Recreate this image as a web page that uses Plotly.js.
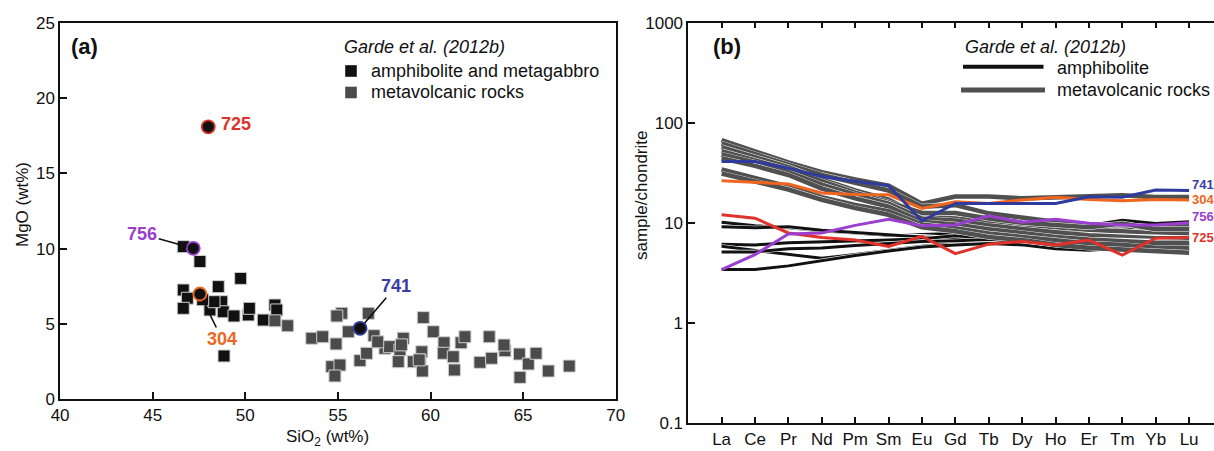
<!DOCTYPE html>
<html><head><meta charset="utf-8">
<script src="https://cdn.plot.ly/plotly-3.0.1.min.js"></script>
<style>
html,body{margin:0;padding:0;overflow:hidden;background:#fff;width:1214px;height:451px}
#chart{width:1230px;height:451px}
</style>
</head><body><div id="chart"></div>
<script>
// ---------- Panel (a): MgO vs SiO2 ----------
const amphX = [46.65, 47.55, 49.75, 46.65, 46.87, 48.54, 48.73, 46.65, 48.09, 48.81, 49.39, 50.16, 50.22, 50.97, 51.60, 51.70, 48.85, 48.31, 47.70];
const amphY = [10.13, 9.14, 8.02, 7.25, 6.70, 7.47, 6.47, 6.03, 5.92, 5.80, 5.52, 5.59, 6.03, 5.25, 6.25, 5.92, 2.86, 6.47, 6.60];
const volcX = [53.59, 54.18, 54.90, 55.21, 54.94, 55.56, 56.64, 56.95, 54.67, 55.11, 54.84, 56.19, 56.55, 57.54, 57.78, 58.53, 58.35, 58.26, 59.07, 59.53, 59.43, 59.56, 59.61, 60.15, 60.73, 60.69, 61.23, 61.65, 61.86, 61.29, 62.67, 63.17, 63.30, 64.02, 63.97, 64.80, 65.28, 65.70, 64.83, 66.36, 67.49, 51.60, 52.29, 57.15, 58.43, 59.39];
const volcY = [4.04, 4.14, 3.66, 5.70, 5.52, 4.47, 5.70, 4.21, 2.15, 2.26, 1.53, 2.55, 3.04, 3.37, 3.48, 4.04, 3.26, 2.48, 2.48, 3.14, 2.59, 1.86, 5.41, 4.47, 3.74, 3.04, 2.81, 3.74, 4.14, 1.93, 2.44, 4.14, 2.71, 3.21, 3.59, 2.99, 2.33, 3.04, 1.44, 1.86, 2.19, 5.20, 4.87, 3.80, 3.60, 2.60];
const sampleIds = ['725', '756', '304', '741'];
const sampleSiO2 = [48.0, 47.19, 47.55, 56.2];
const sampleMgO = [18.1, 10.02, 6.98, 4.7];

// ---------- Panel (b): REE / chondrite ----------
const ree = ['La','Ce','Pr','Nd','Pm','Sm','Eu','Gd','Tb','Dy','Ho','Er','Tm','Yb','Lu'];
const amphLines = [
  [10.1, 9.3, 8.9, 8.3, 7.9, 7.5, 7.6, 7.8, 8.2, 8.6, 9.0, 9.4, 10.6, 9.8, 10.2],
  [9.1, 8.9, 9.1, 8.4, 8.0, 7.6, 7.2, 7.0, 7.3, 7.8, 8.2, 8.5, 9.1, 8.6, 9.1],
  [6.1, 6.0, 6.3, 6.4, 6.5, 6.7, 6.9, 7.4, 7.0, 6.8, 7.0, 7.3, 7.6, 7.4, 8.4],
  [5.8, 5.3, 4.8, 4.4, 4.8, 5.3, 5.8, 6.2, 6.5, 6.3, 5.8, 5.9, 6.2, 6.0, 6.1],
  [5.1, 5.1, 5.5, 5.6, 5.9, 6.2, 6.5, 6.6, 6.8, 6.4, 6.2, 6.0, 6.3, 6.1, 6.2],
  [3.4, 3.4, 3.7, 4.2, 4.7, 5.2, 5.7, 6.0, 6.2, 6.0, 5.5, 5.3, 5.6, 5.5, 5.4]
];
const volcLines = [
  [67, 52, 40, 32, 27, 23.5, 15.5, 18.3, 18.3, 17.5, 17.8, 18.0, 18.8, 18.0, 18.0],
  [62, 48, 38, 30, 25, 21, 14.5, 15.0, 12.4, 11.1, 10.2, 9.6, 9.5, 9.0, 9.2],
  [57, 45, 36, 27, 21, 17, 11.5, 11.0, 10.5, 9.6, 9.0, 8.5, 8.2, 7.8, 7.8],
  [52, 42, 34, 26, 20, 16, 12.5, 12.5, 11.0, 10.0, 9.5, 9.0, 9.8, 8.6, 8.6],
  [48, 40, 32, 24, 19, 15.5, 11.0, 10.5, 9.4, 8.6, 8.0, 7.5, 7.3, 7.0, 7.0],
  [44, 37, 30, 22, 17.5, 14.5, 10.2, 9.6, 8.6, 7.8, 7.2, 6.8, 6.6, 6.3, 6.3],
  [34, 28, 23, 18, 15, 13, 9.6, 8.8, 7.8, 7.2, 6.6, 6.2, 6.0, 5.6, 5.6],
  [31, 26, 21.5, 17, 14, 12, 9.0, 8.2, 7.2, 6.7, 6.0, 5.6, 5.4, 5.1, 5.0]
];
const ree725 = [12.0, 11.1, 7.9, 7.1, 6.7, 5.8, 7.3, 4.9, 6.1, 6.5, 6.0, 6.7, 4.75, 7.0, 7.1];
const ree756 = [3.4, 4.8, 7.7, 7.9, 9.4, 10.8, 9.3, 9.5, 11.7, 10.1, 10.8, 9.9, 9.5, 9.5, 10.0];
const ree304 = [26.3, 25.5, 24.4, 19.8, 19.1, 19.0, 13.9, 16.2, 15.6, 16.9, 18.0, 17.1, 16.6, 17.1, 16.9];
const ree741 = [41, 41, 35, 29, 26, 23.5, 10.4, 15.6, 15.6, 15.6, 15.6, 18.2, 18.0, 21.2, 21.0];
const reeSamples = [ree725, ree756, ree304, ree741];

// ---------- styles ----------
const W = 1230, H = 451;
const FONT = 'Liberation Sans, Arial, Helvetica, sans-serif';
const sampleColors = ['#e0322a', '#9a3fd0', '#f0651f', '#2f3a9e'];
const labelColors = ['#e0322a', '#9b3ecf', '#ef6522', '#3a3da6'];
const BLACK = '#111111', GREY = '#505050';
const px = p => p / W, py = p => 1 - p / H;

const traces = [];
// panel a
traces.push({type:'scatter', mode:'markers', x: amphX, y: amphY, xaxis:'x', yaxis:'y', name:'amphibolite and metagabbro',
  marker:{symbol:'square', size:12, color:BLACK, line:{color:'#cfcfcf', width:1}}, hoverinfo:'x+y'});
traces.push({type:'scatter', mode:'markers', x: volcX, y: volcY, xaxis:'x', yaxis:'y', name:'metavolcanic rocks',
  marker:{symbol:'square', size:12, color:'#4b4b4b', line:{color:'#cfcfcf', width:1}}, hoverinfo:'x+y'});
traces.push({type:'scatter', mode:'markers', x: sampleSiO2, y: sampleMgO, xaxis:'x', yaxis:'y', text: sampleIds, name:'samples',
  marker:{symbol:'circle', size:13, color:BLACK, line:{color:sampleColors, width:1.8}}});

// panel b
amphLines.forEach(v => {
  traces.push({type:'scatter', mode:'lines', x: ree, y: v, xaxis:'x2', yaxis:'y2', line:{color:'#ffffff', width:4.2}, hoverinfo:'skip'});
  traces.push({type:'scatter', mode:'lines', x: ree, y: v, xaxis:'x2', yaxis:'y2', line:{color:BLACK, width:3}, name:'amphibolite'});
});
volcLines.forEach(v => {
  traces.push({type:'scatter', mode:'lines', x: ree, y: v, xaxis:'x2', yaxis:'y2', line:{color:'#ffffff', width:5.4}, hoverinfo:'skip'});
  traces.push({type:'scatter', mode:'lines', x: ree, y: v, xaxis:'x2', yaxis:'y2', line:{color:GREY, width:4.6}, name:'metavolcanic rocks'});
});
reeSamples.forEach((v, i) => {
  traces.push({type:'scatter', mode:'lines', x: ree, y: v, xaxis:'x2', yaxis:'y2', line:{color:sampleColors[i], width:3}, name: sampleIds[i]});
});

const tickFont = {family: FONT, size: 17, color: '#111'};
const ann = [];
const txt = (text, x, y, opts) => Object.assign({text, x, y, xref:'paper', yref:'paper', showarrow:false,
  font:{family:FONT, size:18, color:'#111'}, xanchor:'left', yanchor:'middle'}, opts || {});

// panel labels & titles
ann.push(txt('<b>(a)</b>', px(84), py(46), {xanchor:'center', font:{family:FONT, size:22, color:'#111'}}));
ann.push(txt('<b>(b)</b>', px(726.5), py(46), {xanchor:'center', font:{family:FONT, size:22, color:'#111'}}));
ann.push(txt('MgO (wt%)', px(22), py(205), {xanchor:'center', textangle:-90, font:{family:FONT, size:17, color:'#111'}}));
ann.push(txt('SiO<sub>2</sub> (wt%)', px(327), py(438), {xanchor:'center', font:{family:FONT, size:17, color:'#111'}}));
ann.push(txt('sample/chondrite', px(641), py(196), {xanchor:'center', textangle:-90, font:{family:FONT, size:17, color:'#111'}}));

// legends
ann.push(txt('<i>Garde et al. (2012b)</i>', px(342), py(47)));
ann.push(txt('amphibolite and metagabbro', px(369), py(71)));
ann.push(txt('metavolcanic rocks', px(369), py(92)));
ann.push(txt('<i>Garde et al. (2012b)</i>', px(963), py(46.5)));
ann.push(txt('amphibolite', px(1055), py(67.5)));
ann.push(txt('metavolcanic rocks', px(1055), py(90)));

// sample labels in panel a
const aOffsets = [[null, null], [-51, -14], [22, 45], [36, -42]];
sampleIds.forEach((id, i) => {
  const base = {text:'<b>' + id + '</b>', x: sampleSiO2[i], y: sampleMgO[i], xref:'x', yref:'y',
    font:{family:FONT, size:18, color:labelColors[i]}};
  if (i === 0) {
    ann.push(Object.assign(base, {showarrow:false, xanchor:'left', yanchor:'middle', xshift:11, yshift:3}));
  } else {
    ann.push(Object.assign(base, {showarrow:true, arrowhead:0, arrowwidth:1.6, arrowcolor:'#111',
      ax: aOffsets[i][0], ay: aOffsets[i][1], standoff:7}));
  }
});
// sample labels at right of panel b
const bShift = [0, 6, 0, 6];
reeSamples.forEach((v, i) => {
  ann.push({text:'<b>' + sampleIds[i] + '</b>', x: ree.length - 1, y: Math.log10(v[v.length - 1]), xref:'x2', yref:'y2',
    showarrow:false, xanchor:'left', yanchor:'middle', xshift:1, yshift:bShift[i],
    font:{family:FONT, size:13, color:labelColors[i]}});
});

const shapes = [
  {type:'rect', xref:'paper', yref:'paper', x0:px(345.2), x1:px(356.8), y0:py(65.2), y1:py(76.8), fillcolor:BLACK, line:{width:0}},
  {type:'rect', xref:'paper', yref:'paper', x0:px(345.2), x1:px(356.8), y0:py(86.7), y1:py(98.3), fillcolor:'#4b4b4b', line:{width:0}},
  {type:'line', xref:'paper', yref:'paper', x0:px(963), x1:px(1043.5), y0:py(66.7), y1:py(66.7), line:{color:BLACK, width:4}},
  {type:'line', xref:'paper', yref:'paper', x0:px(961), x1:px(1045), y0:py(90), y1:py(90), line:{color:GREY, width:5}}
];

const axBase = {showline:true, linecolor:'#111', linewidth:1.5, ticks:'inside', ticklen:7, tickwidth:1.5, tickcolor:'#111',
  showgrid:false, zeroline:false, tickfont:tickFont, fixedrange:true};

const layout = {
  width: W, height: H, margin:{l:0, r:0, t:0, b:0}, showlegend:false,
  paper_bgcolor:'#fff', plot_bgcolor:'#fff',
  xaxis: Object.assign({}, axBase, {domain:[px(60.1), px(615.7)], range:[40, 70], dtick:5, tick0:40, mirror:true, anchor:'y'}),
  yaxis: Object.assign({}, axBase, {domain:[py(399), py(23)], range:[0, 25], dtick:5, tick0:0, mirror:true, anchor:'x'}),
  xaxis2: Object.assign({}, axBase, {domain:[px(688.2), px(1222.5)], type:'category', categoryorder:'array', categoryarray:ree,
    range:[-1, ree.length], mirror:'ticks', anchor:'y2', ticklen:6}),
  yaxis2: Object.assign({}, axBase, {domain:[py(422.7), py(22.7)], type:'log', range:[-1, 3],
    tickvals:[0.1, 1, 10, 100, 1000], ticktext:['0.1', '1', '10', '100', '1000'], mirror:true, anchor:'x2'}),
  annotations: ann, shapes: shapes
};

Plotly.newPlot('chart', traces, layout, {displayModeBar:false, responsive:false});
</script></body></html>
